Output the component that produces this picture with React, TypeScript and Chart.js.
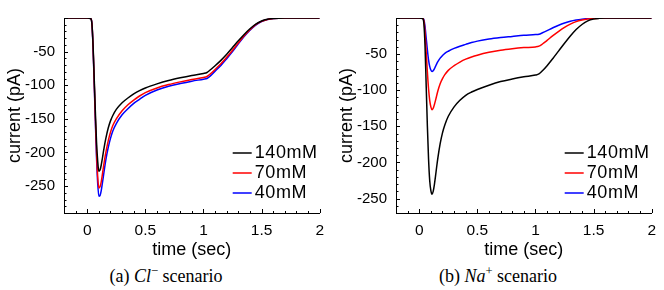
import React, { useEffect, useRef } from "react";
import { Chart, registerables } from "chart.js";

Chart.register(...registerables);

// ---------- data ----------
const timeSec = [
  -0.2, 0, 0.03, 0.04, 0.05, 0.06, 0.07, 0.08, 0.09, 0.1, 0.11, 0.12, 0.13, 0.14, 0.15,
  0.16, 0.18, 0.2, 0.22, 0.25, 0.3, 0.35, 0.4, 0.45, 0.5, 0.6, 0.7, 0.8, 0.9, 1.0,
  1.03, 1.06, 1.1, 1.15, 1.2, 1.25, 1.3, 1.35, 1.4, 1.45, 1.5, 1.55, 1.6, 1.7, 2.0,
];

const seriesLabels = ["140mM", "70mM", "40mM"];
const seriesColors = ["#000000", "#ff0000", "#0000ff"];

// (a) Cl- scenario
const cl140 = [
  0, 0, -1, -8, -40, -90, -140, -185, -213, -228, -226, -219, -209, -198, -188,
  -179, -164, -153, -145, -136, -126, -119, -113, -108, -104, -98, -93, -89, -85.5, -82.5,
  -81, -77, -71, -63, -54, -44, -34, -24.5, -16, -9, -4.5, -2, -0.7, 0, 0,
];
const cl70 = [
  0, 0, -1, -8, -42, -95, -150, -200, -236, -253, -251, -244, -233, -221, -210,
  -200, -183, -170, -160, -150, -138, -129, -122, -116, -111, -104, -99, -95, -91.5, -88.5,
  -87, -83, -76.5, -68, -58.5, -48, -37, -26.5, -17.5, -10, -5, -2.2, -0.8, 0, 0,
];
const cl40 = [
  0, 0, -1, -8, -44, -98, -155, -208, -246, -265, -264, -257, -246, -234, -222,
  -211, -193, -179, -168, -157, -144, -135, -127, -121, -115, -107, -101.5, -97.5, -94, -91,
  -90, -86, -79, -70.5, -60.5, -50, -38.5, -27.5, -18, -10.5, -5.2, -2.3, -0.8, 0, 0,
];

// (b) Na+ scenario
const na140 = [
  0, 0, -1, -8, -40, -95, -150, -195, -225, -239, -244, -240, -231, -219, -206,
  -194, -174, -159, -148, -136, -123, -114, -107, -102.5, -99, -93, -88, -84.5, -81.5, -79,
  -77.5, -73, -66, -56, -45.5, -35, -25, -16, -9, -4, -1.5, -0.5, 0, 0, 0,
];
const na70 = [
  0, 0, -0.5, -4, -20, -48, -75, -98, -114, -123, -127, -125, -120, -114, -107.5,
  -101, -91, -84, -78.5, -72.5, -66, -61, -57, -54, -51.5, -47.5, -44.5, -42.5, -41, -40,
  -39, -36, -31, -24.5, -18.5, -13, -8.5, -5, -2.8, -1.4, -0.6, -0.2, 0, 0, 0,
];
const na40 = [
  0, 0, -0.3, -2.5, -12, -28, -44, -58, -67, -72, -74, -73, -70.5, -67, -63.5,
  -60.5, -55.5, -52, -49, -46, -42, -39, -36.5, -34, -32, -29, -27, -25.5, -24, -23,
  -22.5, -20.5, -17.5, -13.5, -10, -7, -4.5, -2.8, -1.6, -0.8, -0.3, -0.1, 0, 0, 0,
];

const xMin = -0.2;
const xMax = 2;
const xStep = 0.1;
const xMajorStep = 0.5;
const clYMin = -290;
const naYMin = -270;
const yMax = 0;
const yStep = 10;
const yMajorStep = 50;

// ---------- helpers ----------
const isMultiple = (v: number, step: number) =>
  Math.abs(v / step - Math.round(v / step)) < 1e-6;

const SANS = "'Liberation Sans', Arial, Helvetica, sans-serif";

const innerTicksPlugin = {
  id: "innerTicks",
  afterDatasetsDraw(chart: any) {
    const ctx = chart.ctx;
    const { left, bottom } = chart.chartArea;
    const xs = chart.scales.x;
    const ys = chart.scales.y;
    ctx.save();
    ctx.strokeStyle = "#000";
    ctx.lineWidth = 1;
    ctx.beginPath();
    xs.ticks.forEach((t: any) => {
      const px = Math.round(xs.getPixelForValue(t.value)) + 0.5;
      const major = isMultiple(t.value, xMajorStep);
      ctx.moveTo(px, bottom);
      ctx.lineTo(px, bottom - (major ? 4 : 2));
    });
    ys.ticks.forEach((t: any) => {
      const py = Math.round(ys.getPixelForValue(t.value)) + 0.5;
      const major = isMultiple(t.value, yMajorStep);
      ctx.moveTo(left, py);
      ctx.lineTo(left + (major ? 4 : 2.5), py);
    });
    ctx.stroke();
    ctx.restore();
  },
};

const insideLegendPlugin = {
  id: "insideLegend",
  afterDatasetsDraw(chart: any) {
    const ctx = chart.ctx;
    const { right, bottom } = chart.chartArea;
    ctx.save();
    ctx.font = `18px ${SANS}`;
    try {
      (ctx as any).letterSpacing = "0.6px";
    } catch (e) {
      /* ignore */
    }
    ctx.textBaseline = "middle";
    ctx.textAlign = "left";
    chart.data.datasets.forEach((ds: any, i: number) => {
      const y = bottom - 60 + i * 20;
      const tx = right - 65;
      ctx.strokeStyle = ds.borderColor;
      ctx.lineWidth = 1.5;
      ctx.beginPath();
      ctx.moveTo(tx - 22, y);
      ctx.lineTo(tx - 3, y);
      ctx.stroke();
      ctx.fillStyle = "#000";
      ctx.fillText(ds.label, tx, y + 0.5);
    });
    try {
      (ctx as any).letterSpacing = "0px";
    } catch (e) {
      /* ignore */
    }
    ctx.restore();
  },
};

function Panel({ series, yMin, caption }: { series: number[][]; yMin: number; caption: React.ReactNode }) {
  const ref = useRef<HTMLCanvasElement | null>(null);

  useEffect(() => {
    if (!ref.current) return;
    const chart = new Chart(ref.current, {
      type: "line",
      data: {
        labels: timeSec,
        datasets: series.map((vals, i) => ({
          label: seriesLabels[i],
          data: vals.map((v, j) => ({ x: timeSec[j], y: v })),
          borderColor: seriesColors[i],
          borderWidth: 1.5,
          pointRadius: 0,
          fill: false,
          cubicInterpolationMode: "monotone" as const,
        })),
      },
      options: {
        responsive: false,
        animation: false,
        devicePixelRatio: 1,
        layout: { padding: { top: 13, right: 9, left: 0, bottom: 0 } },
        plugins: { legend: { display: false }, tooltip: { enabled: false } },
        scales: {
          x: {
            type: "linear",
            min: xMin,
            max: xMax,
            grid: { display: false, drawTicks: false },
            border: { display: true, color: "#000", width: 1 },
            ticks: {
              stepSize: xStep,
              autoSkip: false,
              maxRotation: 0,
              minRotation: 0,
              padding: 8,
              color: "#000",
              font: { family: SANS, size: 15.5 },
              callback: (v: any) => {
                const n = Number(v);
                return isMultiple(n, xMajorStep) && n >= 0 ? String(Math.round(n * 2) / 2) : "";
              },
            },
            title: {
              display: true,
              text: "time (sec)",
              color: "#000",
              font: { family: SANS, size: 18 },
              padding: { top: 0, bottom: 1 },
            },
            afterFit: (scale: any) => {
              scale.height = 49;
            },
          },
          y: {
            type: "linear",
            min: yMin,
            max: yMax,
            grid: { display: false, drawTicks: false },
            border: { display: true, color: "#000", width: 1 },
            ticks: {
              stepSize: yStep,
              autoSkip: false,
              padding: 9,
              color: "#000",
              font: { family: SANS, size: 15 },
              callback: (v: any) => {
                const n = Number(v);
                return isMultiple(n, yMajorStep) && n !== 0 ? String(n) : "";
              },
            },
            title: {
              display: true,
              text: "current (pA)",
              color: "#000",
              font: { family: SANS, size: 18 },
              padding: { top: 4, bottom: 0 },
            },
            afterFit: (scale: any) => {
              scale.width = 64;
            },
          },
        },
      },
      plugins: [innerTicksPlugin, insideLegendPlugin],
    });
    return () => chart.destroy();
  }, [series, yMin]);

  return (
    <div style={{ position: "relative", width: 332, height: 290 }}>
      <canvas ref={ref} width={332} height={262} style={{ display: "block" }} />
      <div
        style={{
          position: "absolute",
          top: 266,
          left: 0,
          width: 332,
          textAlign: "center",
          fontFamily: "'Liberation Serif', 'Times New Roman', serif",
          fontSize: 18,
          lineHeight: "20px",
          color: "#000",
        }}
      >
        {caption}
      </div>
    </div>
  );
}

const clSeries = [cl140, cl70, cl40];
const naSeries = [na140, na70, na40];

export default function App() {
  return (
    <div
      style={{
        position: "absolute",
        left: 0,
        top: 0,
        width: 664,
        height: 290,
        display: "flex",
        background: "#fff",
        overflow: "hidden",
      }}
    >
      <Panel
        series={clSeries}
        yMin={clYMin}
        caption={
          <span>
            (a) <i>Cl</i>
            <sup style={{ fontSize: "0.7em", lineHeight: 0 }}>−</sup> scenario
          </span>
        }
      />
      <Panel
        series={naSeries}
        yMin={naYMin}
        caption={
          <span>
            (b) <i>Na</i>
            <sup style={{ fontSize: "0.7em", lineHeight: 0 }}>+</sup> scenario
          </span>
        }
      />
    </div>
  );
}
